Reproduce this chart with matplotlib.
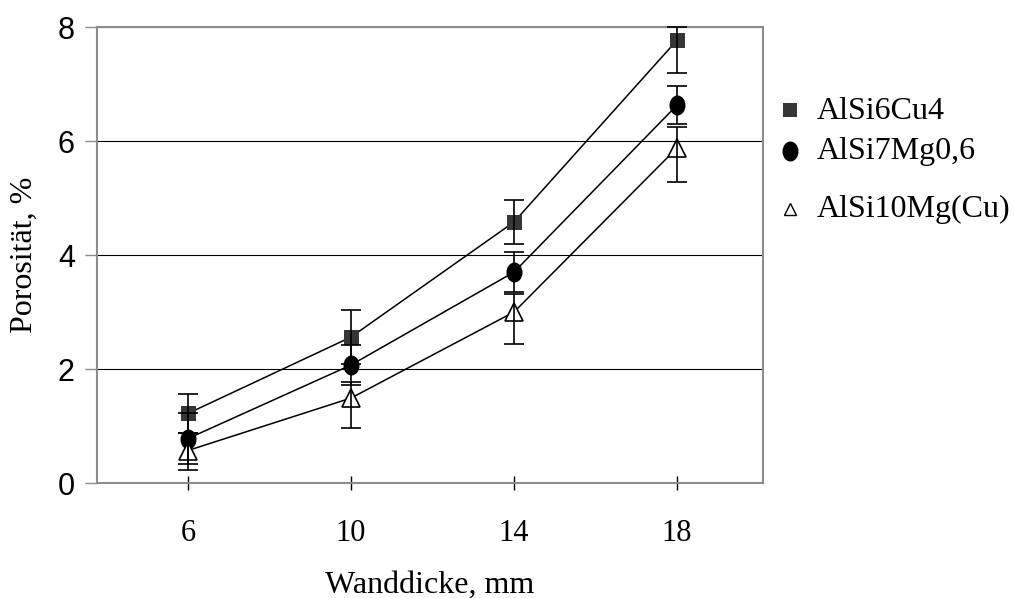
import matplotlib
matplotlib.use("Agg")
import matplotlib.pyplot as plt
from matplotlib.lines import Line2D
from matplotlib.path import Path
from matplotlib.transforms import Affine2D

# ── Daten ─────────────────────────────────────────────────────────────────────

wall = [6, 10, 14, 18]
wall_labels = ["6", "10", "14", "18"]
y_ticks = [0, 2, 4, 6, 8]
y_labels = ["0", "2", "4", "6", "8"]

names = ["AlSi6Cu4", "AlSi7Mg0,6", "AlSi10Mg(Cu)"]

cu4_mean = [1.22, 2.56, 4.58, 7.77]
cu4_lo   = [0.35, 0.48, 0.39, 0.57]
cu4_hi   = [0.35, 0.48, 0.38, 0.23]

mg06_mean = [0.78, 2.07, 3.70, 6.63]
mg06_lo   = [0.45, 0.35, 0.35, 0.33]
mg06_hi   = [0.45, 0.35, 0.35, 0.33]

mgcu_mean = [0.57, 1.49, 3.00, 5.88]
mgcu_lo   = [0.34, 0.53, 0.56, 0.60]
mgcu_hi   = [0.30, 0.28, 0.32, 0.37]

# ── Stil ──────────────────────────────────────────────────────────────────────

SERIF = "Liberation Serif"
SANS  = "Liberation Sans"

ellipse = Affine2D().scale(0.8, 1.0).transform_path(Path.unit_circle())

styles = [
    dict(marker="s", ms=10.8, mfc="#363636", mec="#363636", mew=0),
    dict(marker=ellipse, ms=14.4, mfc="black", mec="black", mew=0),
    dict(marker="^", ms=12.5, mfc="white", mec="black", mew=1.2),
]
data = [
    (cu4_mean, cu4_lo, cu4_hi),
    (mg06_mean, mg06_lo, mg06_hi),
    (mgcu_mean, mgcu_lo, mgcu_hi),
]

fig = plt.figure(figsize=(10.15, 5.98), dpi=100)
ax = fig.add_axes([0.0956, 0.1923, 0.6562, 0.7625])

for (mean, lo, hi), st in zip(data, styles):
    ax.plot(wall, mean, color="black", lw=1.1, zorder=2)
    ax.plot(wall, mean, ls="none", zorder=3, **st)

for mean, lo, hi in data:
    eb = ax.errorbar(wall, mean, yerr=[lo, hi], fmt="none", ecolor="black",
                     elinewidth=1.2, capsize=7, capthick=1.2, zorder=4)
    for art in eb.get_children():
        art.set_clip_on(False)

ax.set_xlim(3.77, 20.11)
ax.set_ylim(0, 8)
ax.set_xticks(wall, labels=wall_labels, fontfamily=SERIF, fontsize=22)
ax.set_yticks(y_ticks, labels=y_labels, fontfamily=SANS, fontsize=22)

ax.yaxis.grid(True, color="black", lw=0.8)
ax.set_axisbelow(True)
for sp in ax.spines.values():
    sp.set_color("#8c8c8c")
    sp.set_linewidth(1.5)
    sp.set_zorder(1.5)

ax.tick_params(axis="x", direction="inout", length=10, width=1, color="black", pad=21)
ax.tick_params(axis="y", direction="out", length=9, width=1, color="#8c8c8c", pad=7)

ax.set_xlabel("Wanddicke, mm", fontfamily=SERIF, fontsize=23)
ax.xaxis.set_label_coords(0.5, -0.192)
ax.set_ylabel("Porosität, %", fontfamily=SERIF, fontsize=23)
ax.yaxis.set_label_coords(-0.087, 0.5)

# ── Legende (rechts neben dem Diagramm) ────────────────────────────────────────

leg_styles = [
    dict(marker="s", ms=9.5, mfc="#363636", mec="#363636", mew=0),
    dict(marker=ellipse, ms=14.4, mfc="black", mec="black", mew=0),
    dict(marker="^", ms=8, mfc="white", mec="black", mew=1.0),
]
leg_y = [0.814, 0.746, 0.649]
for name, st, y in zip(names, leg_styles, leg_y):
    fig.add_artist(Line2D([0.778], [y + 0.002], transform=fig.transFigure, ls="none", **st))
    fig.text(0.805, y, name, fontfamily=SERIF, fontsize=23, va="center", ha="left")

fig.savefig("out.png", dpi=100)
